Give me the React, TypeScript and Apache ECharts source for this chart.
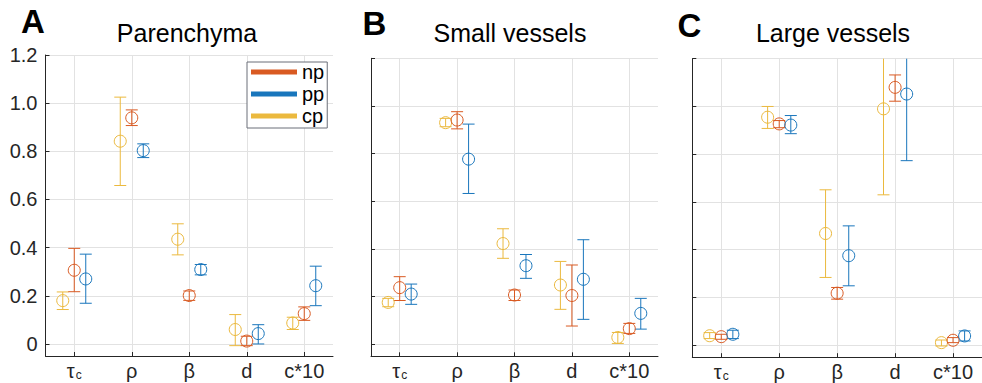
import React, { useEffect, useRef } from 'react';
import * as echarts from 'echarts';

// ---------------- data ----------------
const categories = ['τc', 'ρ', 'β', 'd', 'c*10'];
const categoryPositions = [1, 2, 3, 4, 5];
const yTicks = [0, 0.2, 0.4, 0.6, 0.8, 1.0, 1.2];
const groupNames = ['cp', 'np', 'pp'];
const groupOffsets = [-0.2, 0, 0.2];
const groupColors = ['#EBB93E', '#D95A22', '#1976BC'];
const legendOrder = ['np', 'pp', 'cp'];
const panelTitles = ['Parenchyma', 'Small vessels', 'Large vessels'];
const panelLetters = ['A', 'B', 'C'];

// each entry: [mean, lower, upper] per category
const parenchymaCp = [[0.18, 0.143, 0.216], [0.842, 0.658, 1.025], [0.435, 0.37, 0.499], [0.06, -0.007, 0.122], [0.087, 0.06, 0.111]];
const parenchymaNp = [[0.306, 0.217, 0.397], [0.939, 0.907, 0.972], [0.201, 0.181, 0.22], [0.012, -0.007, 0.032], [0.126, 0.098, 0.154]];
const parenchymaPp = [[0.27, 0.169, 0.373], [0.803, 0.774, 0.831], [0.309, 0.287, 0.33], [0.043, 0.0, 0.08], [0.242, 0.159, 0.323]];

const smallCp = [[0.176, 0.158, 0.193], [0.93, 0.913, 0.948], [0.423, 0.361, 0.485], [0.249, 0.147, 0.348], [0.029, 0.004, 0.05]];
const smallNp = [[0.238, 0.184, 0.284], [0.941, 0.904, 0.976], [0.207, 0.184, 0.228], [0.205, 0.077, 0.333], [0.066, 0.046, 0.088]];
const smallPp = [[0.211, 0.168, 0.253], [0.777, 0.633, 0.924], [0.33, 0.277, 0.377], [0.273, 0.105, 0.439], [0.13, 0.064, 0.193]];

const largeCp = [[0.04, 0.028, 0.053], [0.955, 0.908, 1.0], [0.468, 0.284, 0.651], [0.99, 0.63, 1.35], [0.011, -0.003, 0.022]];
const largeNp = [[0.036, 0.025, 0.046], [0.927, 0.911, 0.941], [0.218, 0.193, 0.242], [1.08, 1.022, 1.132], [0.021, 0.011, 0.032]];
const largePp = [[0.046, 0.028, 0.063], [0.922, 0.886, 0.962], [0.375, 0.249, 0.5], [1.052, 0.773, 1.33], [0.039, 0.018, 0.06]];

const panelData = [
  [parenchymaCp, parenchymaNp, parenchymaPp],
  [smallCp, smallNp, smallPp],
  [largeCp, largeNp, largePp],
];

// ---------------- layout ----------------
const FONT = '"Liberation Sans", Arial, Helvetica, sans-serif';
const Y_MIN = -0.05;
const Y_MAX = 1.2;
const grids = [
  { left: 45.5, top: 55, width: 287.5, height: 301 },
  { left: 371, top: 58.3, width: 287, height: 298 },
  { left: 692.3, top: 58.7, width: 289.7, height: 298.5 },
];
const titleCenters = [187, 510, 833];
const letterPos = [
  { x: 21, y: 21.5 },
  { x: 362.5, y: 23.5 },
  { x: 677.5, y: 25 },
];
const AXIS_COLOR = '#262626';
const GRID_COLOR = '#e2e2e2';

function buildOption() {
  const xAxis: any[] = [];
  const yAxis: any[] = [];
  const series: any[] = [];
  const graphic: any[] = [];

  grids.forEach((g, p) => {
    xAxis.push({
      type: 'value',
      gridIndex: p,
      min: 0.5,
      max: 5.5,
      axisLine: { show: true, onZero: false, lineStyle: { color: AXIS_COLOR, width: 1 } },
      axisTick: { show: true, inside: true, length: 4, customValues: categoryPositions, lineStyle: { color: AXIS_COLOR } },
      axisLabel: {
        show: true,
        customValues: categoryPositions,
        margin: 5,
        color: AXIS_COLOR,
        fontSize: 20,
        fontFamily: FONT,
        formatter: (v: number) => {
          const i = Math.round(v) - 1;
          if (i === 0) return '{t|τ}{s|c}';
          return '{t|' + categories[i] + '}';
        },
        rich: {
          t: { fontSize: 20, fontFamily: FONT, color: AXIS_COLOR, lineHeight: 20, verticalAlign: 'top' },
          s: { fontSize: 12, fontFamily: FONT, color: AXIS_COLOR, lineHeight: 12, padding: [8, 0, 0, 1], verticalAlign: 'top' },
        },
      },
      splitLine: { show: true, lineStyle: { color: GRID_COLOR, width: 1 } },
    });
    yAxis.push({
      type: 'value',
      gridIndex: p,
      min: Y_MIN,
      max: Y_MAX,
      axisLine: { show: true, onZero: false, lineStyle: { color: AXIS_COLOR, width: 1 } },
      axisTick: { show: true, inside: true, length: 4, customValues: yTicks, lineStyle: { color: AXIS_COLOR } },
      axisLabel: {
        show: p === 0,
        customValues: yTicks,
        margin: 8,
        color: AXIS_COLOR,
        fontSize: 20,
        fontFamily: FONT,
        formatter: (v: number) => (Math.abs(v) < 1e-9 ? '0' : v.toFixed(1)),
      },
      splitLine: { show: true, lineStyle: { color: GRID_COLOR, width: 1 } },
    });

    panelData[p].forEach((groupVals, gi) => {
      const color = groupColors[gi];
      const pts = groupVals.map((t, ci) => [categoryPositions[ci] + groupOffsets[gi], t[0], t[1], t[2]]);
      series.push({
        type: 'custom',
        name: groupNames[gi] + '-err-' + p,
        xAxisIndex: p,
        yAxisIndex: p,
        data: pts,
        z: 2,
        silent: true,
        renderItem: (params: any, api: any) => {
          const x = api.value(0);
          const lo = api.value(2);
          const hi = api.value(3);
          const top = api.coord([x, Math.min(hi, Y_MAX)]);
          const bot = api.coord([x, Math.max(lo, Y_MIN)]);
          const style = { stroke: color, lineWidth: 1, fill: 'none' };
          const children: any[] = [
            { type: 'line', shape: { x1: top[0], y1: top[1], x2: bot[0], y2: bot[1] }, style },
          ];
          if (hi <= Y_MAX) children.push({ type: 'line', shape: { x1: top[0] - 6, y1: top[1], x2: top[0] + 6, y2: top[1] }, style });
          if (lo >= Y_MIN) children.push({ type: 'line', shape: { x1: bot[0] - 6, y1: bot[1], x2: bot[0] + 6, y2: bot[1] }, style });
          return { type: 'group', children };
        },
      });
      series.push({
        type: 'scatter',
        name: groupNames[gi],
        xAxisIndex: p,
        yAxisIndex: p,
        data: pts.map((d) => [d[0], d[1]]),
        symbol: 'circle',
        symbolSize: 12,
        color,
        z: 3,
        itemStyle: { color: 'rgba(0,0,0,0)', borderColor: color, borderWidth: 1, opacity: 1 },
        emphasis: { disabled: true },
      });
    });

    graphic.push({
      type: 'text',
      x: titleCenters[p],
      y: 33,
      style: { text: panelTitles[p], fill: '#000', font: `25px ${FONT}`, textAlign: 'center', textVerticalAlign: 'middle' },
    });
    graphic.push({
      type: 'text',
      x: letterPos[p].x,
      y: letterPos[p].y,
      style: { text: panelLetters[p], fill: '#000', font: `bold 33px ${FONT}`, textAlign: 'left', textVerticalAlign: 'middle' },
    });
  });

  return {
    animation: false,
    backgroundColor: '#ffffff',
    grid: grids.map((g) => ({ ...g, containLabel: false, outerBoundsMode: 'none' })),
    xAxis,
    yAxis,
    series,
    graphic,
    legend: {
      orient: 'vertical',
      left: 247,
      top: 62,
      selectedMode: false,
      data: legendOrder.map((n) => ({
        name: n,
        icon: 'rect',
        itemStyle: { color: groupColors[groupNames.indexOf(n)], borderWidth: 0 },
      })),
      itemWidth: 46,
      itemHeight: 5,
      itemGap: 2,
      padding: [0, 3, 2, 4],
      borderColor: '#6a6f78',
      borderWidth: 1,
      backgroundColor: '#ffffff',
      textStyle: { fontSize: 20, color: '#000', fontFamily: FONT },
    },
  };
}

export default function App() {
  const ref = useRef<HTMLDivElement>(null);
  useEffect(() => {
    if (!ref.current) return;
    const chart = echarts.init(ref.current, undefined, { renderer: 'svg' });
    chart.setOption(buildOption() as any);
    return () => chart.dispose();
  }, []);
  return (
    <div
      ref={ref}
      style={{ position: 'absolute', left: 0, top: 0, width: 982, height: 383, background: '#fff' }}
    />
  );
}
